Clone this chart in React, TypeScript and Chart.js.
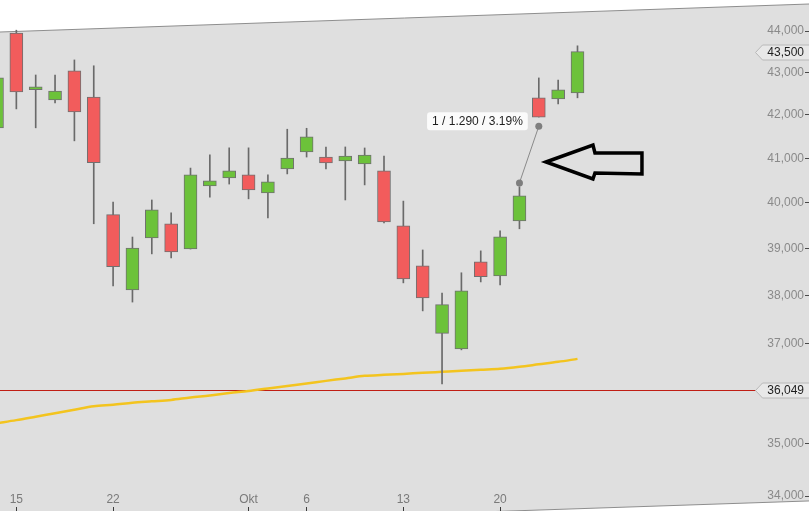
import React, { useEffect, useRef } from 'react';
import { Chart, registerables } from 'chart.js';

Chart.register(...registerables);

// ---- data ----
const dates = [
  '2014-09-12', '2014-09-15', '2014-09-16', '2014-09-17', '2014-09-18', '2014-09-19',
  '2014-09-22', '2014-09-23', '2014-09-24', '2014-09-25', '2014-09-26',
  '2014-09-29', '2014-09-30', '2014-10-01', '2014-10-02', '2014-10-03',
  '2014-10-06', '2014-10-07', '2014-10-08', '2014-10-09', '2014-10-10',
  '2014-10-13', '2014-10-14', '2014-10-15', '2014-10-16', '2014-10-17',
  '2014-10-20', '2014-10-21', '2014-10-22', '2014-10-23', '2014-10-24',
];
const opens = [
  41700, 43950, 42590, 42350, 43040, 42420,
  39740, 38115, 39230, 39540, 38990,
  40380, 40560, 40625, 40222, 40760,
  41145, 41030, 40940, 40873, 40715,
  39495, 38630, 37210, 36890, 38715,
  38415, 39605, 42400, 42375, 42515,
];
const highs = [
  42900, 44020, 42940, 42940, 43300, 43160,
  40020, 39250, 40065, 39780, 40780,
  41080, 41240, 41240, 40625, 41668,
  41690, 41260, 41260, 41237, 41053,
  40040, 38970, 38050, 38480, 38950,
  39385, 40360, 42870, 42820, 43640,
];
const lows = [
  41650, 42140, 41700, 42280, 41400, 39540,
  38200, 37860, 38885, 38800, 38990,
  40130, 40420, 40090, 39670, 40648,
  41030, 40760, 40065, 40401, 39560,
  38265, 37675, 36180, 36870, 38285,
  38220, 39430, 41950, 42255, 42400,
];
const closes = [
  42870, 42540, 42660, 42560, 42070, 40900,
  38610, 39010, 39845, 38930, 40625,
  40490, 40715, 40290, 40469, 41007,
  41490, 40895, 41053, 41076, 39580,
  38350, 37945, 37805, 38095, 38395,
  39255, 40155, 41950, 42590, 43500,
];
const movingAverage = [
  35402, 35461, 35529, 35598, 35666, 35734,
  35764, 35803, 35832, 35861, 35910,
  35949, 35998, 36038, 36089, 36140,
  36190, 36241, 36291, 36342, 36362,
  36382, 36403, 36423, 36443, 36464,
  36484, 36524, 36575, 36626, 36686,
];
const xTickIndex = [1, 6, 13, 16, 21, 26];
const xTickLabels = ['15', '22', 'Okt', '6', '13', '20'];
const yTickValues = [34000, 35000, 37000, 38000, 39000, 40000, 41000, 42000, 43000, 44000];
const supportLevel = 36049;
const measureIndex = [27, 28];
const measureValues = [40446, 41736];
const measureLabel = '1 / 1.290 / 3.19%';
const channelIndex = [0, 40];
const channelTop = [43973, 44631];
const channelBottom = [33397, 33883];
const arrowTip = { index: 28.37, value: 40917 };

const FONT = 'Arial, "Liberation Sans", sans-serif';
const UP = '#6cc23a';
const DOWN = '#f25c5c';
const EDGE = '#707070';

const fmt = (v: number) => Math.round(v).toLocaleString('en-US');

export default function App() {
  const ref = useRef<HTMLCanvasElement | null>(null);

  useEffect(() => {
    document.body.style.margin = '0';
    const canvas = ref.current;
    if (!canvas) return;

    const backgroundPlugin = {
      id: 'channelBg',
      beforeDraw(chart: any) {
        const { ctx, width, height } = chart;
        const xs = chart.scales.x;
        const ys = chart.scales.y;
        ctx.save();
        ctx.fillStyle = '#ffffff';
        ctx.fillRect(0, 0, width, height);
        const lineAt = (vals: number[]) => {
          const x0 = xs.getPixelForValue(channelIndex[0]);
          const x1 = xs.getPixelForValue(channelIndex[1]);
          const y0 = ys.getPixelForValue(vals[0]);
          const y1 = ys.getPixelForValue(vals[1]);
          const k = (y1 - y0) / (x1 - x0);
          return (x: number) => y0 + k * (x - x0);
        };
        const top = lineAt(channelTop);
        const bot = lineAt(channelBottom);
        ctx.beginPath();
        ctx.moveTo(0, top(0));
        ctx.lineTo(width, top(width));
        ctx.lineTo(width, bot(width));
        ctx.lineTo(0, bot(0));
        ctx.closePath();
        ctx.fillStyle = '#dfdfdf';
        ctx.fill();
        ctx.strokeStyle = '#8e8e8e';
        ctx.lineWidth = 1;
        ctx.beginPath();
        ctx.moveTo(0, top(0));
        ctx.lineTo(width, top(width));
        ctx.moveTo(0, bot(0));
        ctx.lineTo(width, bot(width));
        ctx.stroke();
        ctx.restore();
      },
      beforeDatasetsDraw(chart: any) {
        const { ctx, chartArea } = chart;
        const y = Math.round(chart.scales.y.getPixelForValue(supportLevel)) + 0.5;
        ctx.save();
        ctx.strokeStyle = '#c01e14';
        ctx.lineWidth = 1;
        ctx.beginPath();
        ctx.moveTo(0, y);
        ctx.lineTo(chartArea.right - 49, y);
        ctx.stroke();
        ctx.restore();
      },
      afterDraw(chart: any) {
        const { ctx, chartArea, width } = chart;
        const xs = chart.scales.x;
        const ys = chart.scales.y;
        ctx.save();
        // price tags
        const tag = (value: number, text: string) => {
          const y = Math.round(ys.getPixelForValue(value)) + 0.5;
          const x0 = chartArea.right - 49.5;
          const h = 15;
          ctx.beginPath();
          ctx.moveTo(x0, y);
          ctx.lineTo(x0 + 7, y - h / 2);
          ctx.lineTo(width + 2, y - h / 2);
          ctx.lineTo(width + 2, y + h / 2);
          ctx.lineTo(x0 + 7, y + h / 2);
          ctx.closePath();
          ctx.fillStyle = '#e8e8e8';
          ctx.fill();
          ctx.strokeStyle = '#b8b8b8';
          ctx.lineWidth = 1;
          ctx.stroke();
          ctx.fillStyle = '#1e1e1e';
          ctx.font = '12px ' + FONT;
          ctx.textAlign = 'right';
          ctx.textBaseline = 'middle';
          ctx.fillText(text, chartArea.right - 1, y + 0.5);
        };
        tag(closes[closes.length - 1], fmt(closes[closes.length - 1]));
        tag(supportLevel, fmt(supportLevel));

        // measurement label
        const px = xs.getPixelForValue(measureIndex[1]);
        const py = ys.getPixelForValue(measureValues[1]);
        ctx.font = '12px ' + FONT;
        const tw = ctx.measureText(measureLabel).width;
        const bw = tw + 10;
        const bh = 18;
        const bx = px - 11 - bw;
        const by = py - 5 - bh / 2;
        ctx.fillStyle = '#fbfbfb';
        ctx.beginPath();
        (ctx as any).roundRect ? (ctx as any).roundRect(bx, by, bw, bh, 3) : ctx.rect(bx, by, bw, bh);
        ctx.fill();
        ctx.fillStyle = '#1e1e1e';
        ctx.textAlign = 'center';
        ctx.textBaseline = 'middle';
        ctx.fillText(measureLabel, bx + bw / 2, by + bh / 2 + 0.5);

        // hand drawn arrow
        const ax = xs.getPixelForValue(arrowTip.index);
        const ay = ys.getPixelForValue(arrowTip.value);
        const pts = [[0, 0], [47, -17], [49, -9], [96, -9], [96, 12], [49, 11], [47, 17]];
        ctx.beginPath();
        pts.forEach(([dx, dy], i) => {
          if (i === 0) ctx.moveTo(ax + dx, ay + dy);
          else ctx.lineTo(ax + dx, ay + dy);
        });
        ctx.closePath();
        ctx.strokeStyle = '#000000';
        ctx.lineWidth = 3.5;
        ctx.lineJoin = 'miter';
        ctx.stroke();
        ctx.restore();
      },
    };

    const idx = dates.map((_, i) => i);
    const chart = new Chart(canvas, {
      type: 'bar',
      data: {
        datasets: [
          {
            type: 'line',
            label: 'MA',
            data: idx.map((i) => ({ x: i, y: movingAverage[i] })),
            borderColor: '#f3c41f',
            borderWidth: 2.5,
            pointRadius: 0,
            cubicInterpolationMode: 'monotone',
            order: 3,
          } as any,
          {
            label: 'wick',
            data: idx.map((i) => ({ x: i, y: [lows[i], highs[i]] })),
            backgroundColor: '#6a6a6a',
            borderWidth: 0,
            barThickness: 1,
            grouped: false,
            order: 2,
          } as any,
          {
            label: 'body',
            data: idx.map((i) => ({ x: i, y: [opens[i], closes[i]] })),
            backgroundColor: idx.map((i) => (closes[i] >= opens[i] ? UP : DOWN)),
            borderColor: EDGE,
            borderWidth: 1,
            borderSkipped: false,
            barThickness: 13,
            grouped: false,
            order: 1,
          } as any,
          {
            type: 'line',
            label: 'measure',
            data: measureIndex.map((m, k) => ({ x: m, y: measureValues[k] })),
            borderColor: '#8a8a8a',
            borderWidth: 1,
            pointRadius: 3.5,
            pointBackgroundColor: '#7e7e7e',
            pointBorderWidth: 0,
            order: 0,
          } as any,
        ],
      },
      options: {
        responsive: false,
        maintainAspectRatio: false,
        animation: false,
        devicePixelRatio: 1,
        layout: { padding: 0, autoPadding: false },
        plugins: { legend: { display: false }, tooltip: { enabled: false } },
        scales: {
          x: {
            type: 'linear',
            position: 'bottom',
            min: 0.155,
            max: 41.757,
            offset: false,
            grid: { display: true, offset: false, drawOnChartArea: false, drawTicks: true, tickLength: 4, color: '#3a3a3a' },
            border: { display: false },
            ticks: {
              autoSkip: false,
              maxRotation: 0,
              mirror: true,
              padding: 0,
              color: '#7a7a7a',
              font: { family: FONT, size: 12 },
              callback: (v: any) => {
                const k = xTickIndex.indexOf(Number(v));
                return k >= 0 ? xTickLabels[k] : '';
              },
            },
            afterBuildTicks: (s: any) => {
              s.ticks = xTickIndex.map((v) => ({ value: v }));
            },
            afterFit: (s: any) => {
              s.height = 4;
              s.paddingLeft = 0;
              s.paddingRight = 0;
            },
          } as any,
          y: {
            type: 'logarithmic',
            position: 'right',
            min: 33793.3,
            max: 44763,
            bounds: 'data',
            grid: { display: true, drawOnChartArea: false, drawTicks: true, tickLength: 4, color: '#4a4a4a' },
            border: { display: false },
            ticks: {
              mirror: true,
              padding: -1,
              color: '#8a8a8a',
              font: { family: FONT, size: 12 },
              callback: (v: any) => fmt(Number(v)),
            },
            afterBuildTicks: (s: any) => {
              s.ticks = yTickValues.map((v) => ({ value: v }));
            },
            afterFit: (s: any) => {
              s.width = 4;
              s.paddingTop = 0;
              s.paddingBottom = 0;
            },
          } as any,
        },
      },
      plugins: [backgroundPlugin],
    });

    return () => chart.destroy();
  }, []);

  return (
    <div style={{ width: 809, height: 511 }}>
      <canvas ref={ref} width={809} height={511} style={{ display: 'block' }} />
    </div>
  );
}
